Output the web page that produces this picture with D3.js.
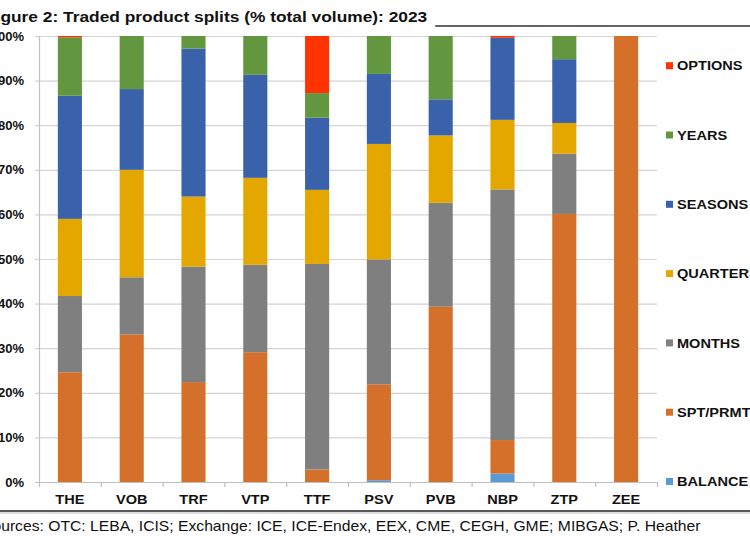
<!DOCTYPE html>
<html>
<head>
<meta charset="utf-8">
<script src="https://cdn.jsdelivr.net/npm/d3@7"></script>
<style>
  html, body { margin: 0; padding: 0; background: #fff; overflow: hidden; }
  svg { display: block; font-family: "Liberation Sans", Arial, sans-serif; }
</style>
</head>
<body>
<svg id="chart" width="750" height="536"></svg>
<script>
// ---- data ----
const categories = ["THE", "VOB", "TRF", "VTP", "TTF", "PSV", "PVB", "NBP", "ZTP", "ZEE"];
const seriesNames = ["BALANCE", "SPT/PRMTH", "MONTHS", "QUARTERS", "SEASONS", "YEARS", "OPTIONS"];
const balance  = [0,    0,    0,    0,    0,    0.4,  0,    1.9,  0,    0];
const sptPrmth = [24.6, 33.1, 22.4, 29.1, 2.8,  21.5, 39.3, 7.5,  60.1, 100];
const months   = [17.1, 12.8, 25.9, 19.6, 46.1, 28.0, 23.3, 56.2, 13.5, 0];
const quarters = [17.3, 24.1, 15.7, 19.5, 16.6, 25.9, 15.1, 15.6, 6.9,  0];
const seasons  = [27.6, 18.1, 33.2, 23.1, 16.2, 15.7, 8.1,  18.4, 14.3, 0];
const years    = [13.1, 11.9, 2.8,  8.7,  5.5,  8.5,  14.2, 0,    5.2,  0];
const options  = [0.3,  0,    0,    0,    12.8, 0,    0,    0.4,  0,    0];
const yTicks = [0, 10, 20, 30, 40, 50, 60, 70, 80, 90, 100];
const titleText = "Figure 2: Traded product splits (% total volume): 2023";
const sourceText = "Sources: OTC: LEBA, ICIS; Exchange: ICE, ICE-Endex, EEX, CME, CEGH, GME; MIBGAS; P. Heather";

const seriesValues = [balance, sptPrmth, months, quarters, seasons, years, options];
const colors = ["#5B9BD5", "#D4702A", "#7F7F7F", "#E3A700", "#3A62AA", "#62963F", "#FF3300"];

// ---- layout ----
const svg = d3.select("#chart");
const plot = { left: 39, right: 657, top: 36, bottom: 482 };
const SX = 1.12; // horizontal stretch of the scanned text

const rows = categories.map((c, i) => {
  const r = { cat: c };
  seriesNames.forEach((s, k) => r[s] = seriesValues[k][i]);
  return r;
});
const stacked = d3.stack().keys(seriesNames)(rows);

const x = d3.scaleBand().domain(categories).range([plot.left, plot.right])
  .paddingInner(0.61).paddingOuter(0.305);
const y = d3.scaleLinear().domain([0, 100]).range([plot.bottom, plot.top]);

function place(sel, tx, ty, sx = SX) {
  return sel.attr("transform", (d, i) => {
    const px = typeof tx === "function" ? tx(d, i) : tx;
    const py = typeof ty === "function" ? ty(d, i) : ty;
    return `translate(${px},${py}) scale(${sx},1)`;
  });
}

// title
const title = svg.append("text").attr("font-size", 15.5).attr("font-weight", "bold")
  .attr("fill", "#111").text(titleText);
place(title, -15, 21.5);
const titleEnd = -15 + title.node().getComputedTextLength() * SX;
svg.append("line").attr("x1", titleEnd + 8).attr("x2", 750).attr("y1", 26).attr("y2", 26)
  .attr("stroke", "#333").attr("stroke-width", 1.5);

// gridlines
svg.append("g").selectAll("line").data(yTicks).join("line")
  .attr("x1", plot.left - 4).attr("x2", plot.right)
  .attr("y1", d => y(d) + 0.5).attr("y2", d => y(d) + 0.5)
  .attr("stroke", d => d === 0 ? "#BFBFBF" : "#D4D4D4").attr("stroke-width", 1.2);

// y axis line
svg.append("line").attr("x1", plot.left + 0.5).attr("x2", plot.left + 0.5)
  .attr("y1", plot.top).attr("y2", plot.bottom + 4)
  .attr("stroke", "#BFBFBF").attr("stroke-width", 1.2);

// x ticks at band boundaries
const step = x.step();
const bounds = d3.range(categories.length + 1).map(i => plot.left + i * step);
svg.append("g").selectAll("line").data(bounds).join("line")
  .attr("x1", d => d + 0.5).attr("x2", d => d + 0.5)
  .attr("y1", plot.bottom).attr("y2", plot.bottom + 5)
  .attr("stroke", "#BFBFBF").attr("stroke-width", 1.2);

// y labels
place(svg.append("g").selectAll("text").data(yTicks).join("text"), 24, d => y(d), 1.0)
  .attr("dy", "0.36em")
  .attr("text-anchor", "end").attr("font-size", 13).attr("font-weight", "bold")
  .attr("fill", "#111").text(d => d + "%");

// bars
svg.append("g").selectAll("g").data(stacked).join("g")
  .attr("fill", (d, i) => colors[i])
  .selectAll("rect").data(d => d).join("rect")
  .attr("x", d => x(d.data.cat))
  .attr("width", x.bandwidth())
  .attr("y", d => y(d[1]))
  .attr("height", d => Math.max(0, y(d[0]) - y(d[1])));

// x labels
place(svg.append("g").selectAll("text").data(categories).join("text"),
      d => x(d) + x.bandwidth() / 2, 499.5)
  .attr("dy", "0.36em")
  .attr("text-anchor", "middle").attr("font-size", 13).attr("font-weight", "bold")
  .attr("fill", "#111").text(d => d);

// legend (top to bottom: OPTIONS ... BALANCE)
const legendOrder = seriesNames.map((s, i) => ({ name: s, color: colors[i] })).reverse();
const lg = svg.append("g").selectAll("g").data(legendOrder).join("g")
  .attr("transform", (d, i) => `translate(666, ${65.7 + i * 69.3})`);
lg.append("rect").attr("x", 0).attr("y", -3.5).attr("width", 7).attr("height", 7)
  .attr("fill", d => d.color);
place(lg.append("text"), 11, 0).attr("dy", "0.36em")
  .attr("font-size", 13).attr("font-weight", "bold").attr("fill", "#111")
  .text(d => d.name);

// bottom rule and source
svg.append("line").attr("x1", 0).attr("x2", 750).attr("y1", 511).attr("y2", 511)
  .attr("stroke", "#222").attr("stroke-width", 1.5);
svg.append("line").attr("x1", 0).attr("x2", 750).attr("y1", 513).attr("y2", 513)
  .attr("stroke", "#bbb").attr("stroke-width", 1);
place(svg.append("text"), -18, 531)
  .attr("font-size", 14).attr("fill", "#111").text(sourceText);
</script>
</body>
</html>
